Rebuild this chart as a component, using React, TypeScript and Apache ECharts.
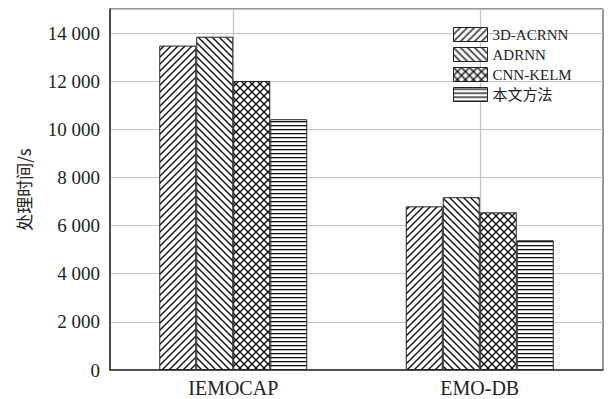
import React, { useEffect, useRef } from "react";
import * as echarts from "echarts";

const categories = ["IEMOCAP", "EMO-DB"];
const seriesNames = ["3D-ACRNN", "ADRNN", "CNN-KELM", "本文方法"];
const acrnn = [13480, 6800];
const adrnn = [13850, 7180];
const cnnKelm = [12010, 6550];
const ours = [10420, 5390];
const seriesValues = [acrnn, adrnn, cnnKelm, ours];
const patternKinds = ["slash", "back", "cross", "hline"];

function makePattern(kind: string) {
  const c = document.createElement("canvas");
  const s = kind === "hline" ? 4 : kind === "cross" ? 8 : 7;
  c.width = s;
  c.height = s;
  const ctx = c.getContext("2d")!;
  ctx.fillStyle = "#ffffff";
  ctx.fillRect(0, 0, s, s);
  ctx.strokeStyle = "#111111";
  ctx.fillStyle = "#111111";
  ctx.lineWidth = 1.4;
  const slash = () => {
    ctx.beginPath();
    ctx.moveTo(-1, s + 1);
    ctx.lineTo(s + 1, -1);
    ctx.moveTo(-1, 1);
    ctx.lineTo(1, -1);
    ctx.moveTo(s - 1, s + 1);
    ctx.lineTo(s + 1, s - 1);
    ctx.stroke();
  };
  const back = () => {
    ctx.beginPath();
    ctx.moveTo(-1, -1);
    ctx.lineTo(s + 1, s + 1);
    ctx.moveTo(s - 1, -1);
    ctx.lineTo(s + 1, 1);
    ctx.moveTo(-1, s - 1);
    ctx.lineTo(1, s + 1);
    ctx.stroke();
  };
  if (kind === "slash") slash();
  else if (kind === "back") back();
  else if (kind === "cross") {
    slash();
    back();
  } else {
    ctx.fillRect(0, 1, s, 1.3);
  }
  return { image: c, repeat: "repeat", imageWidth: s, imageHeight: s } as any;
}

const fmt = (v: number) => {
  if (v >= 15000) return "";
  if (v < 1000) return String(v);
  return `${Math.floor(v / 1000)} ${String(v % 1000).padStart(3, "0")}`;
};

export default function App() {
  const ref = useRef<HTMLDivElement>(null);
  useEffect(() => {
    const chart = echarts.init(ref.current!, undefined, { renderer: "svg" });
    const serif = "'Liberation Serif', 'Times New Roman', 'Noto Sans CJK SC', serif";
    chart.setOption({
      animation: false,
      backgroundColor: "#ffffff",
      grid: {
        left: 110,
        right: 8,
        top: 9,
        bottom: 29,
        show: true,
        borderColor: "#333333",
        borderWidth: 1,
        backgroundColor: "transparent",
      },
      legend: {
        orient: "vertical",
        left: 453,
        top: 27,
        itemWidth: 34,
        itemHeight: 14,
        itemGap: 5,
        padding: 0,
        icon: "rect",
        data: seriesNames,
        itemStyle: { borderColor: "#222222", borderWidth: 1 },
        textStyle: { fontFamily: serif, fontSize: 15, color: "#222222" },
      },
      xAxis: [
        {
          type: "category",
          data: categories,
          axisLine: { show: true, lineStyle: { color: "#333333", width: 1.5 } },
          axisTick: { show: false },
          axisLabel: { fontFamily: serif, fontSize: 20, color: "#222222", margin: 8 },
          splitLine: { show: false },
        },
        {
          type: "category",
          data: ["a", "b", "c", "d", "e"],
          boundaryGap: false,
          position: "bottom",
          axisLine: { show: false },
          axisTick: { show: false },
          axisLabel: { show: false },
          splitLine: {
            show: true,
            interval: (i: number) => i === 1 || i === 3,
            lineStyle: { color: "#c4c4c4", width: 1.2 },
          },
        },
      ],
      yAxis: {
        type: "value",
        min: 0,
        max: 15000,
        interval: 2000,
        name: "处理时间/s",
        nameLocation: "middle",
        nameRotate: 90,
        nameGap: 78,
        nameTextStyle: { fontFamily: "'Noto Sans CJK SC', sans-serif", fontSize: 17, color: "#222222" },
        axisLine: { show: true, lineStyle: { color: "#333333", width: 1.5 } },
        axisTick: { show: false },
        axisLabel: { fontFamily: serif, fontSize: 19, color: "#222222", margin: 10, formatter: fmt },
        splitLine: { show: true, lineStyle: { color: "#c4c4c4", width: 1.2 } },
      },
      series: seriesNames.map((name, i) => ({
        name,
        type: "bar",
        xAxisIndex: 0,
        data: seriesValues[i],
        barWidth: 37,
        barGap: "0%",
        itemStyle: {
          color: makePattern(patternKinds[i]),
          borderColor: "#222222",
          borderWidth: 1,
        },
      })),
    });
    return () => chart.dispose();
  }, []);
  return (
    <div
      ref={ref}
      style={{ position: "fixed", left: 0, top: 0, width: 611, height: 399 }}
    />
  );
}
